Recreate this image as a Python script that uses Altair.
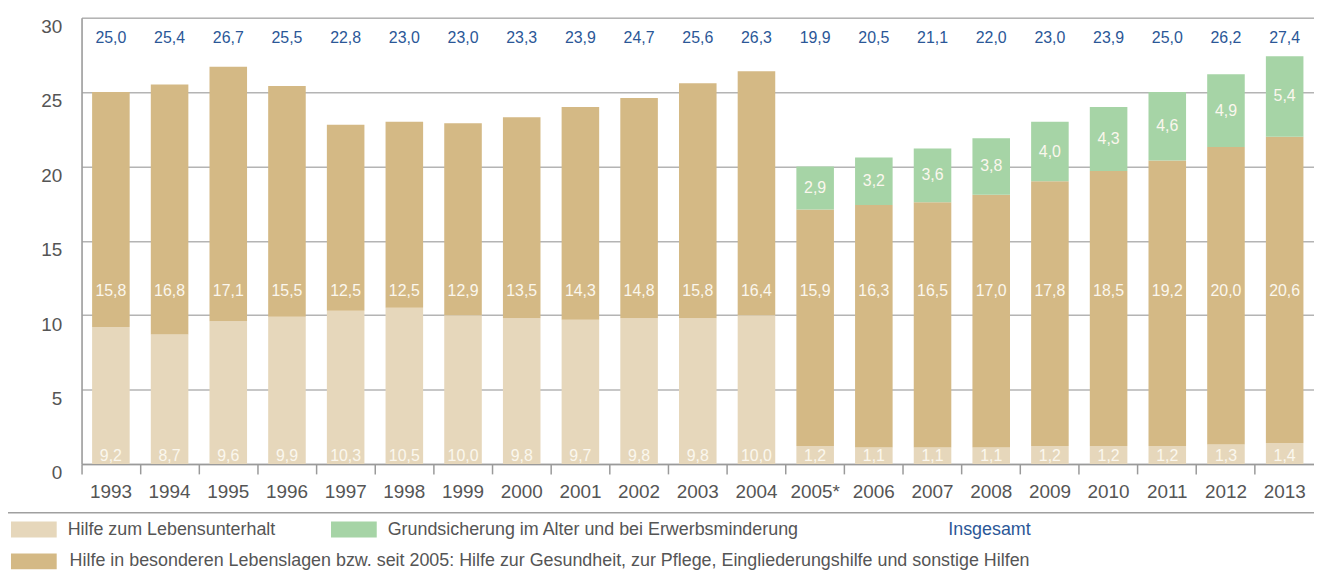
import altair as alt
import pandas as pd

years = ["1993", "1994", "1995", "1996", "1997", "1998", "1999", "2000", "2001", "2002",
         "2003", "2004", "2005*", "2006", "2007", "2008", "2009", "2010", "2011", "2012", "2013"]
lebensunterhalt = [9.2, 8.7, 9.6, 9.9, 10.3, 10.5, 10.0, 9.8, 9.7, 9.8, 9.8, 10.0,
                   1.2, 1.1, 1.1, 1.1, 1.2, 1.2, 1.2, 1.3, 1.4]
lebenslagen = [15.8, 16.8, 17.1, 15.5, 12.5, 12.5, 12.9, 13.5, 14.3, 14.8, 15.8, 16.4,
               15.9, 16.3, 16.5, 17.0, 17.8, 18.5, 19.2, 20.0, 20.6]
grundsicherung = [None] * 12 + [2.9, 3.2, 3.6, 3.8, 4.0, 4.3, 4.6, 4.9, 5.4]
insgesamt = [25.0, 25.4, 26.7, 25.5, 22.8, 23.0, 23.0, 23.3, 23.9, 24.7, 25.6, 26.3,
             19.9, 20.5, 21.1, 22.0, 23.0, 23.9, 25.0, 26.2, 27.4]

name_lu = "Hilfe zum Lebensunterhalt"
name_bl = ("Hilfe in besonderen Lebenslagen bzw. seit 2005: Hilfe zur Gesundheit, "
           "zur Pflege, Eingliederungshilfe und sonstige Hilfen")
name_gs = "Grundsicherung im Alter und bei Erwerbsminderung"
name_total = "Insgesamt"
series_names = [name_lu, name_bl, name_gs]
series_colors = ["#e6d7bb", "#d4b985", "#a6d4a6"]

BLUE = "#2b5797"
GREY = "#555555"
LINE = "#b4b4b4"
WHITE = "#fbf7ee"
FONT = "Liberation Sans"


def fmt(v):
    return f"{v:.1f}".replace(".", ",")


wide = pd.DataFrame({
    "year": years,
    "lu": lebensunterhalt,
    "bl": lebenslagen,
    "gs": grundsicherung,
    "total": insgesamt,
})
wide["lu_t"] = [fmt(v) for v in lebensunterhalt]
wide["bl_t"] = [fmt(v) for v in lebenslagen]
wide["gs_t"] = [fmt(v) if v is not None else "" for v in grundsicherung]
wide["total_t"] = [fmt(v) for v in insgesamt]

rows = []
for i, y in enumerate(years):
    for k, (name, vals) in enumerate(zip(series_names, [lebensunterhalt, lebenslagen, grundsicherung])):
        if vals[i] is not None:
            rows.append({"year": y, "series": name, "value": vals[i], "ord": k})
long = pd.DataFrame(rows)

x_enc = alt.X(
    "year:N",
    sort=years,
    title=None,
    scale=alt.Scale(paddingInner=0.36, paddingOuter=0.18),
    axis=alt.Axis(
        labelAngle=0, bandPosition=-0.281, tickSize=10, tickColor="#9a9a9a", tickWidth=1.5,
        domainColor="#9a9a9a", domainWidth=1.5, labelFontSize=19, labelColor=GREY,
        labelPadding=9, grid=False, labelFont=FONT,
    ),
)

bars = alt.Chart(long).mark_bar().encode(
    x=x_enc,
    y=alt.Y(
        "value:Q",
        stack="zero",
        title=None,
        scale=alt.Scale(domain=[0, 30], nice=False),
        axis=alt.Axis(
            values=[0, 5, 10, 15, 20, 25, 30], grid=True, gridColor=LINE, gridWidth=1.5,
            ticks=False, domainColor="#9a9a9a", domainWidth=1.5, labelFontSize=19,
            labelColor=GREY, labelPadding=20, labelOffset=9, labelFont=FONT,
        ),
    ),
    color=alt.Color("series:N", scale=alt.Scale(domain=series_names, range=series_colors), legend=None),
    order=alt.Order("ord:Q"),
)

base = alt.Chart(wide)

lbl_lu = base.mark_text(color=WHITE, fontSize=16, baseline="alphabetic", dy=-3, font=FONT).encode(
    x=alt.X("year:N", sort=years), y=alt.datum(0), text="lu_t:N"
)
lbl_bl = base.mark_text(color=WHITE, fontSize=16, baseline="middle", font=FONT).encode(
    x=alt.X("year:N", sort=years), y=alt.datum(11.6), text="bl_t:N"
)
lbl_gs = base.transform_filter("isValid(datum.gs)").transform_calculate(
    mid="datum.lu + datum.bl + datum.gs / 2"
).mark_text(color=WHITE, fontSize=16, baseline="middle", font=FONT).encode(
    x=alt.X("year:N", sort=years), y="mid:Q", text="gs_t:N"
)
lbl_total = base.mark_text(color=BLUE, fontSize=16, baseline="middle", font=FONT).encode(
    x=alt.X("year:N", sort=years), y=alt.datum(28.6), text="total_t:N"
)

# legend drawn below the plot
one = pd.DataFrame({"k": [0]})
sep = alt.Chart(one).mark_rule(color="#a0a0a0", strokeWidth=1.5).encode(
    x=alt.value(-74), x2=alt.value(1240), y=alt.value(498)
)


def swatch(color, x0, yc):
    return alt.Chart(one).mark_rect(color=color).encode(
        x=alt.value(x0), x2=alt.value(x0 + 46), y=alt.value(yc - 8), y2=alt.value(yc + 8)
    )


def label(text, x0, yc, color=GREY):
    return alt.Chart(pd.DataFrame({"t": [text]})).mark_text(
        align="left", baseline="middle", fontSize=18, color=color, font=FONT
    ).encode(x=alt.value(x0), y=alt.value(yc), text="t:N")


legend_layers = [
    sep,
    swatch(series_colors[0], -71, 515), label(name_lu, -14, 515),
    swatch(series_colors[2], 251, 515), label(name_gs, 308, 515),
    label(name_total, 872, 515, BLUE),
    swatch(series_colors[1], -71, 547), label(name_bl, -12, 547),
]

chart = alt.layer(bars, lbl_lu, lbl_bl, lbl_gs, lbl_total, *legend_layers).properties(
    width=1240,
    height=449,
    padding={"left": 74, "top": 8, "right": 0, "bottom": 109},
    autosize=alt.AutoSizeParams(type="none"),
).configure_view(stroke=None).configure(font=FONT)

chart.save("out.html", embed_options={"renderer": "svg", "actions": False})
